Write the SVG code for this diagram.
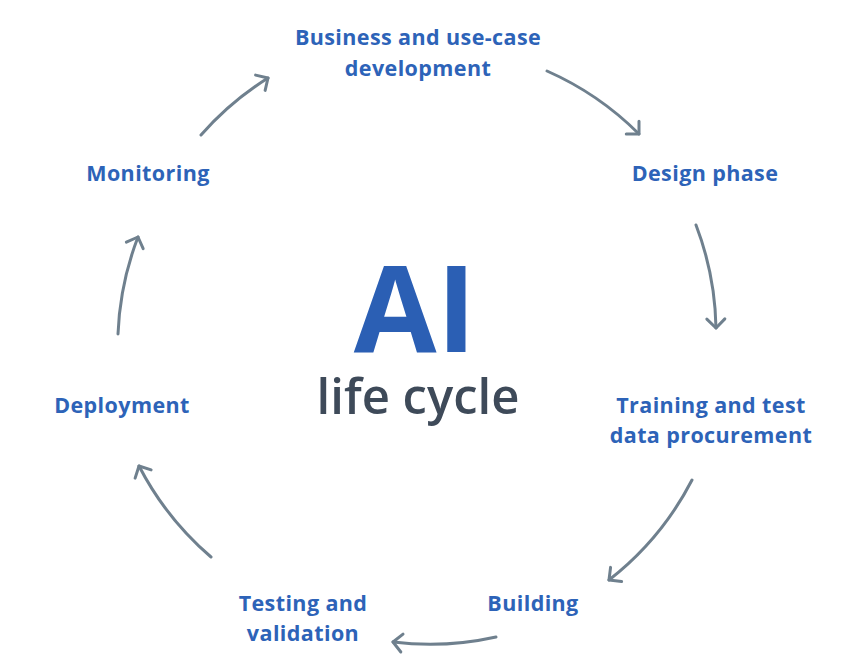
<svg xmlns="http://www.w3.org/2000/svg" width="852" height="658" viewBox="0 0 852 658">
<style>
.lbl{font-family:"Open Sans","Noto Sans","Liberation Sans",sans-serif;font-weight:bold;font-size:21.5px;letter-spacing:0.4px;fill:#2d63b8;text-anchor:middle}
.ai{font-family:"Open Sans","Noto Sans","Liberation Sans",sans-serif;font-weight:bold;font-size:120px;fill:#2b5fb4;text-anchor:middle}
.lc{font-family:"Open Sans","Noto Sans","Liberation Sans",sans-serif;font-weight:600;font-size:49px;fill:#3e4a59;text-anchor:middle}
.arr{fill:none;stroke:#6f808e;stroke-width:3;stroke-linecap:round;marker-end:url(#head)}
</style>
<defs>
<marker id="head" markerUnits="userSpaceOnUse" markerWidth="24" markerHeight="24" viewBox="-12 -12 24 24" refX="0" refY="0" orient="auto">
<path d="M-9,-9 L0,0 L-9,9" fill="none" stroke="#6f808e" stroke-width="3" stroke-linecap="round" stroke-linejoin="round"/>
</marker>
</defs>
<rect width="852" height="658" fill="#ffffff"/>
<g id="connectors">
<path class="arr" d="M547,71 A303,303 0 0 1 639,134"/>
<path class="arr" d="M696,225 A303,303 0 0 1 716,328"/>
<path class="arr" d="M692,480 A303,303 0 0 1 609,580"/>
<path class="arr" d="M496,637 A303,303 0 0 1 393,642"/>
<path class="arr" d="M211,557 A303,303 0 0 1 139,466"/>
<path class="arr" d="M118,334 A303,303 0 0 1 138,237"/>
<path class="arr" d="M201,135 A303,303 0 0 1 268,78"/>
</g>
<g id="center">
<text class="ai" x="415" y="352">AI</text>
<text class="lc" x="418" y="414">life cycle</text>
</g>
<g id="business"><text class="lbl" x="418" y="45">Business and use-case</text><text class="lbl" x="418" y="76">development</text></g>
<g id="design"><text class="lbl" x="705" y="181">Design phase</text></g>
<g id="training"><text class="lbl" x="711" y="413">Training and test</text><text class="lbl" x="711" y="443">data procurement</text></g>
<g id="building"><text class="lbl" x="533" y="611">Building</text></g>
<g id="testing"><text class="lbl" x="303" y="611">Testing and</text><text class="lbl" x="303" y="641">validation</text></g>
<g id="deployment"><text class="lbl" x="122" y="413">Deployment</text></g>
<g id="monitoring"><text class="lbl" x="148" y="181">Monitoring</text></g>
</svg>
